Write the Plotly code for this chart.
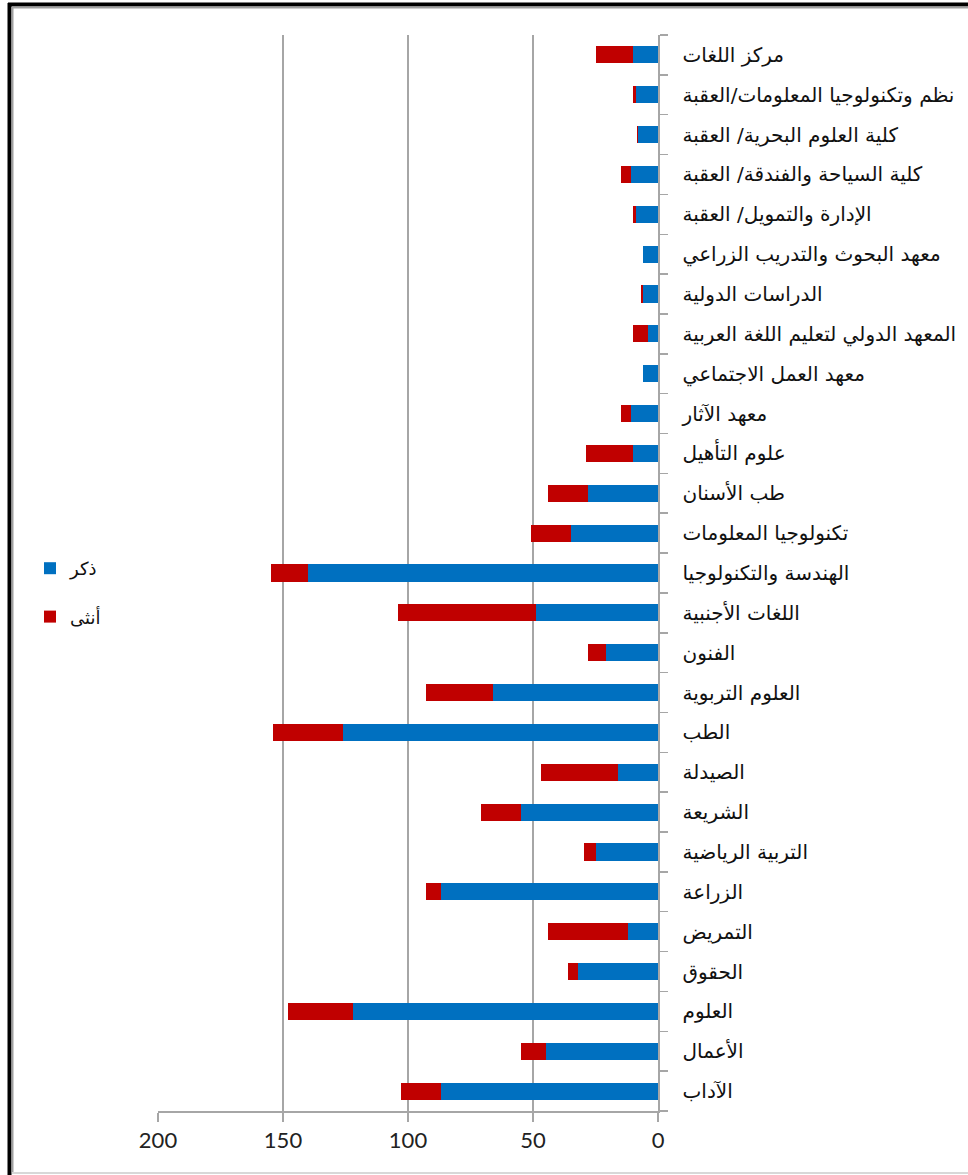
import plotly.graph_objects as go

categories = [
    "الآداب", "الأعمال", "العلوم", "الحقوق", "التمريض", "الزراعة",
    "التربية الرياضية", "الشريعة", "الصيدلة", "الطب", "العلوم التربوية",
    "الفنون", "اللغات الأجنبية", "الهندسة والتكنولوجيا", "تكنولوجيا المعلومات",
    "طب الأسنان", "علوم التأهيل", "معهد الآثار", "معهد العمل الاجتماعي",
    "المعهد الدولي لتعليم اللغة العربية", "الدراسات الدولية",
    "معهد البحوث والتدريب الزراعي", "الإدارة والتمويل/ العقبة",
    "كلية السياحة والفندقة/ العقبة", "كلية العلوم البحرية/ العقبة",
    "نظم وتكنولوجيا المعلومات/العقبة", "مركز اللغات",
]
male = [87, 45, 122, 32, 12, 87, 25, 55, 16, 126, 66, 21, 49, 140, 35, 28,
        10, 11, 6, 4, 6, 6, 9, 11, 8, 9, 10]
female = [16, 10, 26, 4, 32, 6, 4.5, 16, 31, 28, 27, 7, 55, 15, 16, 16,
          19, 4, 0, 6, 1, 0, 1, 4, 0.5, 1, 15]
x_ticks = [0, 50, 100, 150, 200]

series_names = ["ذكر", "أنثى"]
series_colors = ["#0070C0", "#C00000"]

fig = go.Figure()
for name, vals, col in zip(series_names, [male, female], series_colors):
    fig.add_trace(go.Bar(
        y=categories, x=vals, orientation="h", name=name,
        marker=dict(color=col, line=dict(width=0)),
        legendgroup=name,
    ))

W, H = 968, 1175
L, R, T, B = 158, 310, 35, 64
pw, ph = W - L - R, H - T - B


def px_x(p):
    return (p - L) / pw


def px_y(p):
    return (H - B - p) / ph


fig.update_layout(
    width=W, height=H,
    margin=dict(l=L, r=R, t=T, b=B, pad=0),
    barmode="stack",
    bargap=0.57,
    paper_bgcolor="white",
    plot_bgcolor="white",
    font=dict(family="DejaVu Sans, Arial, sans-serif", color="#000000"),
    xaxis=dict(
        range=[200, 0], tickvals=x_ticks, ticktext=[str(v) for v in x_ticks],
        showgrid=True, gridcolor="#A6A6A6", gridwidth=1.5,
        showline=True, linecolor="#A6A6A6", linewidth=1.5,
        ticks="outside", ticklen=9, tickcolor="#A6A6A6", tickwidth=1.5,
        tickfont=dict(family="Lato, Open Sans, sans-serif", size=22, color="#222"),
        zeroline=False, fixedrange=True,
    ),
    yaxis=dict(
        side="right", type="category",
        categoryorder="array", categoryarray=categories,
        range=[-0.5, len(categories) - 0.5],
        showline=True, linecolor="#A6A6A6", linewidth=1.5,
        ticks="outside", ticklen=8, tickcolor="#A6A6A6", tickwidth=1.5,
        tickson="boundaries",
        tickfont=dict(family="DejaVu Sans, sans-serif", size=20, color="#111"),
        ticklabelstandoff=19,
        showgrid=False, zeroline=False, fixedrange=True,
    ),
    legend=dict(
        x=px_x(30), y=px_y(550), xanchor="left", yanchor="top",
        traceorder="grouped", tracegroupgap=22,
        font=dict(family="DejaVu Sans, sans-serif", size=18, color="#111"),
        bgcolor="rgba(0,0,0,0)", itemwidth=30,
    ),
    showlegend=True,
)

# outer frame (decorative border like the original)
frame = [
    dict(x0=px_x(9.5), x1=px_x(9.5), y0=px_y(3), y1=px_y(1175), color="black", w=4),
    dict(x0=px_x(8), x1=px_x(968), y0=px_y(4.5), y1=px_y(4.5), color="black", w=4),
    dict(x0=px_x(12.5), x1=px_x(12.5), y0=px_y(7), y1=px_y(1173), color="#A0A0A0", w=2),
    dict(x0=px_x(12), x1=px_x(968), y0=px_y(7.5), y1=px_y(7.5), color="#A0A0A0", w=2),
    dict(x0=px_x(12), x1=px_x(968), y0=px_y(1173), y1=px_y(1173), color="#D8D8D8", w=2),
]
for f in frame:
    fig.add_shape(type="line", xref="paper", yref="paper",
                  x0=f["x0"], x1=f["x1"], y0=f["y0"], y1=f["y1"],
                  line=dict(color=f["color"], width=f["w"]), layer="above")

fig.write_html(
    "out.html",
    config={"displayModeBar": False, "staticPlot": True},
    post_script="document.body.style.margin='0';document.body.style.padding='0';document.body.style.overflow='hidden';",
)
